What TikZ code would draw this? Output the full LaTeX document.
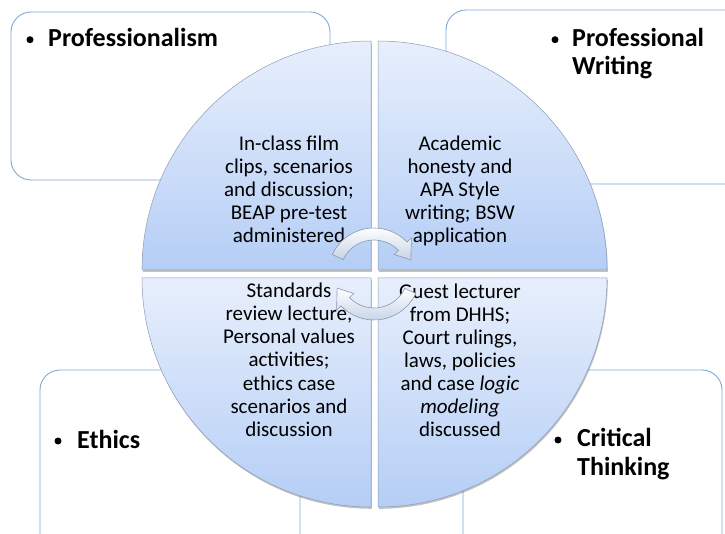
\documentclass[tikz,border=0pt]{standalone}
\usepackage{fontspec}
\setmainfont{Carlito}
\usetikzlibrary{shadows}
\definecolor{boxline}{HTML}{7FA8DA}
\definecolor{qtop}{HTML}{E7EFFC}
\definecolor{qbot}{HTML}{B5CEF6}
\definecolor{qline}{HTML}{8E9DB3}
\definecolor{arline}{HTML}{8A98AE}
\definecolor{arbot}{HTML}{C6D3E6}
\tikzset{
  catbox/.style={draw=boxline, line width=0.9pt, rounded corners=20pt},
  quad/.style={top color=qtop, bottom color=qbot, draw=qline, line width=0.5pt,
     drop shadow={shadow xshift=0.8pt, shadow yshift=-1.8pt, opacity=0.35, fill=black!70}},
  body/.style={font=\fontsize{21}{23}\selectfont, align=center, anchor=base, inner sep=0pt},
  label/.style={font=\fontsize{26}{28.5}\selectfont\bfseries, align=left, anchor=base west, inner sep=0pt},
  bullet/.style={circle, fill=black, minimum size=7pt, inner sep=0pt},
  cyc/.style={top color=white, bottom color=arbot, draw=arline, line width=0.6pt}
}
\begin{document}
\begin{tikzpicture}[x=1pt,y=1pt]
\useasboundingbox (0,0) rectangle (725,533);
\clip (0,0) rectangle (725,533);
% category boxes
\draw[catbox] (11,353) rectangle (330,521);
\draw[catbox] (446,349) rectangle (750,523);
\draw[catbox] (40,-30) rectangle (300,163);
\draw[catbox] (463,-30) rectangle (722,163);
% labels (base anchor = last line)
\node[bullet] (b1) at (30,533-46.7+7) {};
\node[label] (l1) at (48,533-46.7) {Professionalism};
\node[bullet] (b2) at (555,533-46.7+7) {};
\node[label] (l2) at (572,533-75) {Professional\\Writing};
\node[bullet] (b3) at (58,533-448+7) {};
\node[label] (l3) at (77,533-448) {Ethics};
\node[bullet] (b4) at (558,533-447+7) {};
\node[label] (l4) at (577,533-475) {Critical\\Thinking};
% quadrants
\path[quad] (371,263) -- ++(-229,0) arc[start angle=180, end angle=90, radius=229] -- cycle;
\path[quad] (378,263) -- ++(0,229) arc[start angle=90, end angle=0, radius=229] -- cycle;
\path[quad] (371,255) -- ++(-229,0) arc[start angle=180, end angle=270, radius=229] -- cycle;
\path[quad] (378,255) -- ++(0,-229) arc[start angle=270, end angle=360, radius=229] -- cycle;
% quadrant texts (base anchor = last line)
\node[body] (t1) at (289,533-242.7) {In-class film\\clips, scenarios\\and discussion;\\BEAP pre-test\\administered};
\node[body] (t2) at (460,533-242.7) {Academic\\honesty and\\APA Style\\writing; BSW\\application};
\node[body] (t3) at (289,533-436) {Standards\\review lecture,\\Personal values\\activities;\\ethics case\\scenarios and\\discussion};
\node[body] (t4) at (460,533-436.5) {Guest lecturer\\from DHHS;\\Court rulings,\\laws, policies\\and case \textit{logic}\\\textit{modeling}\\discussed};
% cycle arrows
\begin{scope}[shift={(374,259)}]
\path[cyc] (155:46) arc[start angle=155, end angle=44, radius=46] -- (44:52) -- (21:39.5) -- (44:28) -- (44:34) arc[start angle=44, end angle=155, radius=34] -- cycle;
\end{scope}
\begin{scope}[shift={(374,259)}, rotate=180]
\path[cyc] (155:46) arc[start angle=155, end angle=44, radius=46] -- (44:52) -- (21:39.5) -- (44:28) -- (44:34) arc[start angle=44, end angle=155, radius=34] -- cycle;
\end{scope}
\end{tikzpicture}
\end{document}
